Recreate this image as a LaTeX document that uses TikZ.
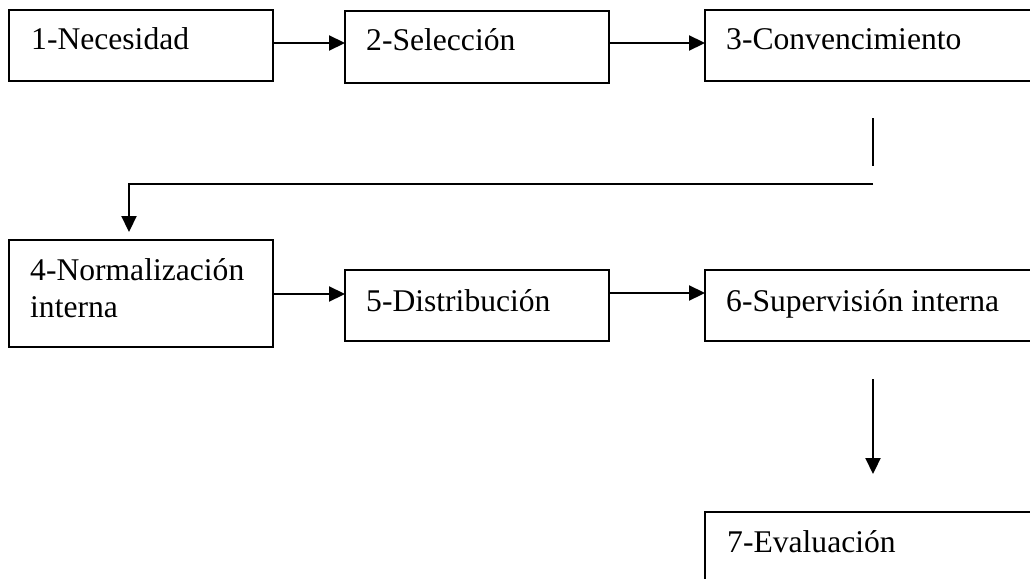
\documentclass[tikz,border=0pt]{standalone}
\usepackage{fontspec}
\setmainfont{Liberation Serif}
\usetikzlibrary{arrows.meta}
\begin{document}
\begin{tikzpicture}[x=1pt,y=-1pt,
  box/.style={draw=black,line width=2.4pt,anchor=north west,inner sep=0pt,outer sep=0pt},
  lbl/.style={anchor=base west,inner sep=0pt,font=\fontsize{31.6}{37}\selectfont,align=left},
  conn/.style={draw=black,line width=2.2pt},
  arr/.style={conn,-{Triangle[length=16pt,width=15pt]}}]
\useasboundingbox (0,0) rectangle (1030,578);
\clip (0,0) rectangle (1030,578);
\fill[white] (0,0) rectangle (1030,578);
% boxes
\node[box,minimum width=264,minimum height=71] (n1) at (9,10) {};
\node[box,minimum width=264,minimum height=72] (n2) at (345,11) {};
\node[box,minimum width=330,minimum height=71] (n3) at (705,10) {};
\node[box,minimum width=264,minimum height=107] (n4) at (9,240) {};
\node[box,minimum width=264,minimum height=71] (n5) at (345,270) {};
\node[box,minimum width=330,minimum height=71] (n6) at (705,270) {};
\node[box,minimum width=330,minimum height=90] (n7) at (705,512) {};
% labels
\node[lbl] (t1) at (31,50) {1-Necesidad};
\node[lbl] (t2) at (366,51) {2-Selección};
\node[lbl] (t3) at (726,50) {3-Convencimiento};
\node[lbl] (t4a) at (30,280) {4-Normalización};
\node[lbl] (t4b) at (30,317) {interna};
\node[lbl] (t5) at (366,311) {5-Distribución};
\node[lbl] (t6) at (726,311) {6-Supervisión interna};
\node[lbl] (t7) at (727,552) {7-Evaluación};
% connector coordinates
\coordinate (v1) at (873,118);
\coordinate (v2) at (873,166);
\coordinate (h1) at (873,184);
\coordinate (h2) at (129,184);
\coordinate (h3) at (129,232);
\coordinate (d1) at (873,379);
\coordinate (d2) at (873,474);
% connectors
\draw[arr] ([yshift=-33pt]n1.north east) -- ([yshift=-33pt]n1.north east -| n2.west);
\draw[arr] ([yshift=-32pt]n2.north east) -- ([yshift=-32pt]n2.north east -| n3.west);
\draw[conn] (v1) -- (v2);
\draw[arr] (h1) -- (h2) -- (h3);
\draw[arr] ([yshift=-54pt]n4.north east) -- ([yshift=-54pt]n4.north east -| n5.west);
\draw[arr] ([yshift=-23pt]n5.north east) -- ([yshift=-23pt]n5.north east -| n6.west);
\draw[arr] (d1) -- (d2);
\end{tikzpicture}
\end{document}
